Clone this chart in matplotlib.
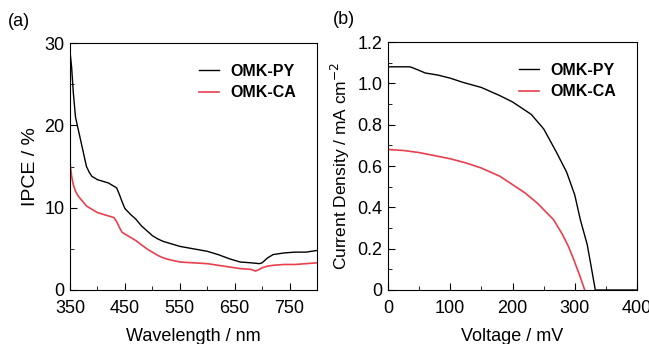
import numpy as np
import matplotlib.pyplot as plt
from matplotlib.ticker import MultipleLocator

plt.rcParams['font.family'] = ['Liberation Sans', 'DejaVu Sans']

# (a) IPCE spectra
wl_py = [350, 353, 356, 360, 365, 370, 375, 380, 385, 390, 400, 410, 420, 430, 435,
         440, 445, 450, 460, 470, 480, 490, 500, 510, 520, 530, 550, 575, 600, 620,
         640, 660, 680, 695, 700, 710, 720, 740, 760, 780, 800]
ipce_py = [29.0, 27.0, 24.0, 21.0, 19.5, 18.0, 16.5, 15.0, 14.3, 13.8, 13.4, 13.2, 13.0,
           12.6, 12.4, 11.6, 10.7, 9.9, 9.2, 8.6, 7.8, 7.2, 6.6, 6.2, 5.9, 5.7, 5.3,
           5.0, 4.7, 4.3, 3.8, 3.4, 3.3, 3.2, 3.3, 3.9, 4.3, 4.5, 4.6, 4.6, 4.8]
wl_ca = [350, 353, 356, 360, 365, 370, 375, 380, 390, 400, 410, 420, 430, 435, 440,
         445, 450, 460, 470, 480, 490, 500, 510, 520, 530, 550, 575, 600, 620, 640,
         660, 680, 688, 695, 700, 710, 720, 740, 760, 780, 800]
ipce_ca = [15.5, 13.8, 12.8, 12.0, 11.4, 11.0, 10.6, 10.2, 9.8, 9.4, 9.2, 9.0, 8.8,
           8.3, 7.6, 7.0, 6.8, 6.4, 6.0, 5.5, 5.0, 4.6, 4.2, 3.9, 3.7, 3.4, 3.3, 3.2,
           3.0, 2.8, 2.6, 2.5, 2.3, 2.5, 2.7, 2.9, 3.0, 3.1, 3.1, 3.2, 3.3]
wl_ticks = [350, 450, 550, 650, 750]

# (b) J-V curves
v_py = [0, 20, 35, 40, 60, 80, 100, 120, 150, 180, 200, 210, 230, 250, 270, 287,
        300, 309, 320, 326, 333, 360, 400]
j_py = [1.08, 1.08, 1.08, 1.075, 1.05, 1.04, 1.025, 1.005, 0.98, 0.94, 0.91, 0.89,
        0.85, 0.78, 0.67, 0.57, 0.46, 0.34, 0.22, 0.12, 0.0, 0.0, 0.0]
v_ca = [0, 25, 50, 75, 100, 125, 150, 180, 200, 220, 240, 266, 280, 290, 298, 308, 316]
j_ca = [0.68, 0.675, 0.665, 0.65, 0.635, 0.615, 0.59, 0.55, 0.51, 0.47, 0.42, 0.34,
        0.27, 0.21, 0.15, 0.07, 0.0]
j_ticks = [0, 0.2, 0.4, 0.6, 0.8, 1.0, 1.2]
j_labels = ['0', '0.2', '0.4', '0.6', '0.8', '1.0', '1.2']

red = '#e8404e'

fig = plt.figure(figsize=(6.49, 3.44), dpi=100)
ax1 = fig.add_axes([70/649, 1-290/344, 247/649, 247/344])
ax2 = fig.add_axes([388/649, 1-290/344, 249/649, 248/344])

ax1.plot(wl_py, ipce_py, color='black', lw=1.0, label='OMK-PY')
ax1.plot(wl_ca, ipce_ca, color=red, lw=1.2, label='OMK-CA')
ax1.set_xlim(350, 800)
ax1.set_ylim(0, 30)
ax1.set_xticks(wl_ticks)
ax1.xaxis.set_minor_locator(MultipleLocator(50))
ax1.yaxis.set_major_locator(MultipleLocator(10))
ax1.yaxis.set_minor_locator(MultipleLocator(5))
ax1.set_xlabel('Wavelength / nm', fontsize=13, labelpad=8)
ax1.set_ylabel('IPCE / %', fontsize=14, labelpad=4)

ax2.plot(v_py, j_py, color='black', lw=1.0, label='OMK-PY')
ax2.plot(v_ca, j_ca, color=red, lw=1.2, label='OMK-CA')
ax2.set_xlim(0, 400)
ax2.set_ylim(0, 1.2)
ax2.xaxis.set_major_locator(MultipleLocator(100))
ax2.xaxis.set_minor_locator(MultipleLocator(50))
ax2.set_yticks(j_ticks)
ax2.set_yticklabels(j_labels)
ax2.yaxis.set_minor_locator(MultipleLocator(0.1))
ax2.set_xlabel('Voltage / mV', fontsize=13, labelpad=8)
ax2.set_ylabel('Current Density / mA cm$^{-2}$', fontsize=12.5, labelpad=4)

for ax in (ax1, ax2):
    ax.tick_params(which='both', direction='in', labelsize=13)
    ax.tick_params(axis='x', pad=7)
    ax.tick_params(axis='y', pad=4)
    ax.tick_params(which='major', length=5)
    ax.tick_params(which='minor', length=3)
    ax.legend(loc='upper right', frameon=False, handlelength=1.3, handletextpad=0.7,
              prop={'weight': 'bold', 'size': 11.5}, borderaxespad=0.9,
              labelspacing=0.4)

fig.text(8/649, 1-22/344, '(a)', fontsize=13, va='center')
fig.text(333/649, 1-20/344, '(b)', fontsize=13, va='center')

fig.savefig('out.png', dpi=100)
